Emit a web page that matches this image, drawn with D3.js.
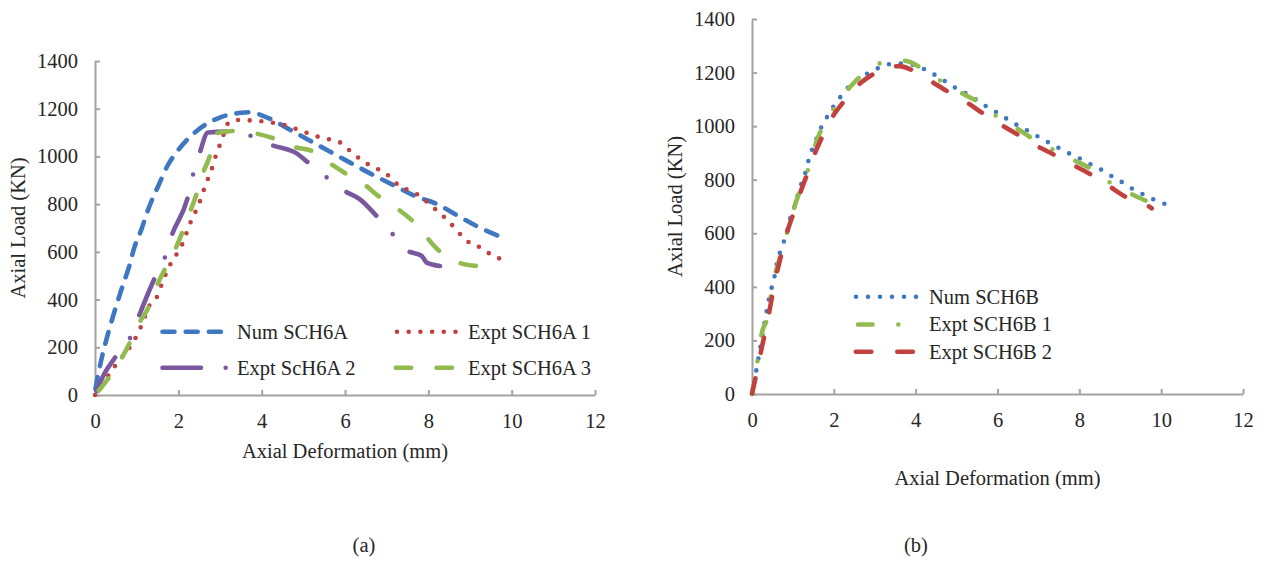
<!DOCTYPE html>
<html>
<head>
<meta charset="utf-8">
<script src="https://cdn.jsdelivr.net/npm/d3@7"></script>
<style>
  body { margin: 0; background: #fff; }
  svg text { font-family: "Liberation Serif", "Times New Roman", serif; fill: #262626; }
</style>
</head>
<body>
<svg id="fig" width="1264" height="561"></svg>
<script>
// Axis ticks shared by both panels
const xTicks = [0, 2, 4, 6, 8, 10, 12];
const yTicks = [0, 200, 400, 600, 800, 1000, 1200, 1400];

// Panel (a): SCH6A, [deformation mm, load kN]
const numSCH6A = [[0.01,25],[0.15,147],[0.27,230],[0.43,328],[0.63,440],[0.83,545],[0.95,622],[1.11,692],[1.27,775],
  [1.51,873],[1.75,964],[2.03,1034],[2.47,1111],[2.95,1160],[3.51,1183],[3.72,1185],[4.12,1164],[4.72,1108],[5.2,1062],
  [5.6,1024],[6.12,974],[6.6,929],[7.16,880],[7.72,831],[8.2,801],[8.68,754],[9.16,708],[9.85,655]];
const exptSCH6A1 = [[0,0],[0.47,119],[0.99,245],[1.11,289],[1.31,377],[1.51,419],[1.61,468],[1.83,555],[1.98,596],
  [2.11,638],[2.21,685],[2.31,731],[2.43,775],[2.54,823],[2.63,869],[2.73,915],[2.83,962],[2.91,1009],[3.02,1058],
  [3.23,1146],[3.51,1153],[3.78,1150],[4.06,1146],[4.34,1139],[4.62,1128],[4.89,1111],[5.16,1094],[5.42,1079],
  [5.69,1069],[5.96,1051],[6.16,1016],[6.4,985],[6.62,960],[6.88,939],[7.1,911],[7.3,876],[7.56,856],[7.8,834],
  [8.02,801],[8.24,768],[8.44,736],[8.64,699],[8.82,664],[9.04,632],[9.3,615],[9.52,586],[9.77,569]];
const exptSCH6A2 = [[0,0],[0.23,91],[0.47,154],[0.83,235],[1.03,321],[1.43,489],[1.67,573],[1.83,663],[2.23,831],
  [2.35,922],[2.51,1013],[2.71,1100],[3.19,1104],[3.74,1086],[4.24,1048],[4.84,1013],[5.14,971],[5.56,912],
  [5.98,856],[6.36,820],[6.76,750],[7.14,675],[7.5,605],[7.84,583],[7.96,555],[8.28,541]];
const exptSCH6A3 = [[0,0],[0.31,67],[0.83,217],[1.03,293],[1.27,363],[1.51,468],[1.71,538],[1.95,620],[2.23,745],
  [2.43,838],[2.59,929],[2.75,999],[2.91,1097],[3.35,1107],[3.84,1097],[4.28,1076],[4.76,1041],[5.24,1020],
  [5.64,971],[6.04,926],[6.48,880],[6.84,829],[7.24,783],[7.64,726],[7.96,661],[8.28,601],[8.72,555],[9.16,541]];

// Panel (b): SCH6B, [deformation mm, load kN]
const numSCH6B = [[0,0],[0.1,83],[0.15,127],[0.3,260],[0.45,380],[0.54,430],[0.59,475],[0.72,545],[0.85,602],
  [0.91,643],[1.01,687],[1.09,727],[1.17,770],[1.28,811],[1.35,855],[1.43,897],[1.54,938],[1.64,979],[1.78,1019],
  [1.92,1057],[2.09,1094],[2.26,1129],[2.45,1160],[2.7,1185],[2.95,1207],[3.23,1225],[3.5,1235],[3.77,1232],
  [4.05,1225],[4.31,1204],[4.58,1182],[4.82,1157],[5.07,1135],[5.33,1114],[5.57,1089],[5.82,1065],[6.06,1044],
  [6.3,1020],[6.55,998],[6.81,977],[7.06,955],[7.32,933],[7.58,912],[7.83,892],[8.08,874],[8.34,852],[8.59,833],
  [8.83,809],[9.09,787],[9.34,762],[9.59,743],[9.85,724],[10.12,708]];
const exptSCH6B1 = [[0,0],[0.12,110],[0.24,227],[0.4,300],[0.48,388],[0.64,488],[0.85,600],[1.05,705],[1.4,851],
  [1.62,961],[1.79,1010],[2.07,1083],[2.39,1145],[2.72,1195],[3.17,1237],[3.5,1245],[3.74,1244],[4.15,1216],
  [4.64,1166],[5.13,1123],[5.54,1089],[5.96,1039],[6.47,992],[6.84,955],[7.35,913],[7.85,874],[8.26,843],
  [8.71,793],[9.24,749],[9.65,720]];
const exptSCH6B2 = [[0,0],[0.1,70],[0.2,145],[0.32,230],[0.45,330],[0.56,420],[0.7,510],[0.85,600],[1.05,690],
  [1.2,760],[1.36,825],[1.52,892],[1.72,961],[1.96,1033],[2.24,1091],[2.6,1154],[2.97,1195],[3.3,1222],[3.6,1224],
  [3.9,1210],[4.39,1166],[4.72,1135],[5.25,1089],[5.64,1048],[6.1,1004],[6.51,967],[6.96,926],[7.4,892],
  [7.85,855],[8.3,818],[8.75,774],[9.12,737],[9.64,706],[9.77,693]];

const C = { blue: "#3f78c0", red: "#c0413e", purple: "#7a58a0", green: "#92bb4f" };
const W = 4.6;
const FONT = '"Liberation Serif", "Times New Roman", serif';
const FS = 20.5;

const svg = d3.select("#fig");

function panel(p) {
  const g = svg.append("g");
  const x = d3.scaleLinear().domain([0, 12]).range(p.xr);
  const y = d3.scaleLinear().domain([0, 1400]).range(p.yr);

  const ya = g.append("g").attr("transform", `translate(${p.xr[0]},0)`)
    .call(d3.axisLeft(y).tickValues(yTicks).tickFormat(d3.format("d"))
      .tickSize(-5).tickSizeOuter(0).tickPadding(17));
  const xa = g.append("g").attr("transform", `translate(0,${p.yr[0]})`)
    .call(d3.axisBottom(x).tickValues(xTicks).tickFormat(d3.format("d"))
      .tickSize(-5).tickSizeOuter(0).tickPadding(18));
  [ya, xa].forEach(a => {
    a.attr("font-family", null).attr("font-size", null);
    a.select(".domain").attr("stroke", "#a3a3a3").attr("stroke-width", 2);
    a.selectAll(".tick line").attr("stroke", "#a3a3a3").attr("stroke-width", 2);
    a.selectAll(".tick text").style("font-family", FONT).style("font-size", FS + "px")
      .attr("fill", "#262626");
  });
  xa.selectAll(".tick").filter(d => d === 0).select("line").remove();

  const line = d3.line().x(d => x(d[0])).y(d => y(d[1])).curve(d3.curveMonotoneX);

  // dash phase: place the start of a dash at the data point s.anchor
  function phase(s) {
    if (s.anchor == null) return 0;
    const tmp = g.append("path").attr("d", line(s.data.slice(0, s.anchor + 1)));
    const len = tmp.node().getTotalLength();
    tmp.remove();
    return -(len + W / 2);
  }

  p.series.forEach(s => {
    g.append("path").datum(s.data).attr("d", line)
      .attr("fill", "none").attr("stroke", s.color).attr("stroke-width", W)
      .attr("stroke-linecap", "round").attr("stroke-linejoin", "round")
      .attr("stroke-dasharray", s.dash).attr("stroke-dashoffset", phase(s));
  });

  // legend
  p.series.forEach(s => {
    const L = s.leg;
    g.append("line").attr("x1", L.x1).attr("x2", L.x2).attr("y1", L.y).attr("y2", L.y)
      .attr("stroke", s.color).attr("stroke-width", W).attr("stroke-linecap", "round")
      .attr("stroke-dasharray", s.dash);
    g.append("text").attr("x", L.tx).attr("y", L.y + 6.8).style("font-size", FS + "px").text(s.name);
  });

  g.append("text").attr("x", (p.xr[0] + p.xr[1]) / 2).attr("y", p.xtY)
    .attr("text-anchor", "middle").style("font-size", FS + "px").text("Axial Deformation (mm)");
  g.append("text").attr("transform", `translate(${p.ytX},${(p.yr[0] + p.yr[1]) / 2}) rotate(-90)`)
    .attr("text-anchor", "middle").style("font-size", FS + "px").text("Axial Load (KN)");
  g.append("text").attr("x", p.capX).attr("y", 552)
    .attr("text-anchor", "middle").style("font-size", FS + "px").text(p.caption);
}

panel({
  xr: [95, 595], yr: [395, 61], xtY: 458, ytX: 25, capX: 364, caption: "(a)",
  series: [
    { name: "Num SCH6A", data: numSCH6A, color: C.blue, dash: "12 11.2",
      leg: { x1: 162.5, x2: 221, y: 331.7, tx: 237 } },
    { name: "Expt SCH6A 1", data: exptSCH6A1, color: C.red, dash: "0 11.7",
      leg: { x1: 397, x2: 456, y: 331.7, tx: 468 } },
    { name: "Expt ScH6A 2", data: exptSCH6A2, color: C.purple, dash: "38.5 24.7 0 24.7", anchor: 22,
      leg: { x1: 162.5, x2: 226, y: 367.7, tx: 237 } },
    { name: "Expt SCH6A 3", data: exptSCH6A3, color: C.green, dash: "15.4 25.4", anchor: 26,
      leg: { x1: 395.8, x2: 454, y: 367.7, tx: 468 } }
  ]
});

panel({
  xr: [752, 1243], yr: [394, 19], xtY: 485, ytX: 682, capX: 916, caption: "(b)",
  series: [
    { name: "Num SCH6B", data: numSCH6B, color: C.blue, dash: "0 12",
      leg: { x1: 856, x2: 916.5, y: 296.7, tx: 929 } },
    { name: "Expt SCH6B 1", data: exptSCH6B1, color: C.green, dash: "14.5 25.8 0 25.8", anchor: 28,
      leg: { x1: 858, x2: 922.5, y: 324.5, tx: 929 } },
    { name: "Expt SCH6B 2", data: exptSCH6B2, color: C.red, dash: "15.5 26", anchor: 30,
      leg: { x1: 855.8, x2: 914, y: 351.7, tx: 929 } }
  ]
});
</script>
</body>
</html>
